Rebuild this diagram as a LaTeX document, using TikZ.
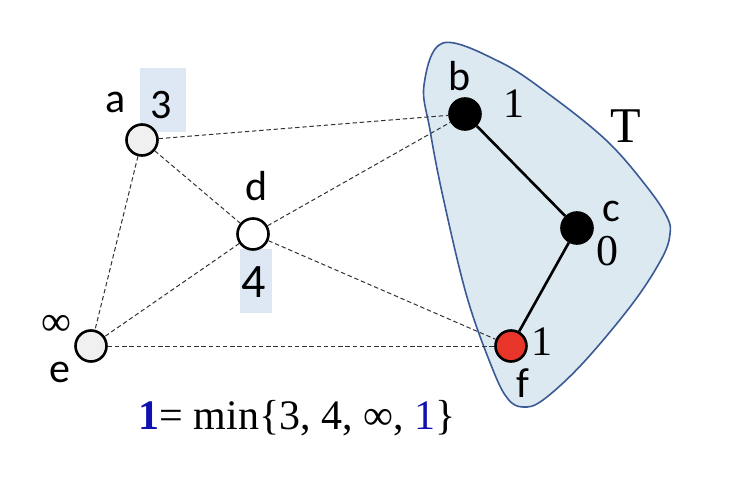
\documentclass[tikz,border=0pt]{standalone}
\usepackage{fontspec}
\setmainfont{Liberation Serif}
\newfontfamily\labelfont{Carlito}
\usepackage{tikz}
\usetikzlibrary{positioning}
\definecolor{treefill}{HTML}{DDE9F1}
\definecolor{treeline}{HTML}{3B5A95}
\definecolor{keybox}{HTML}{DDE8F4}
\definecolor{inactive}{HTML}{F0F0F0}
\definecolor{picked}{HTML}{E8352A}
\definecolor{keyblue}{HTML}{1010B0}
\newcommand{\lblsize}[1]{\fontsize{#1}{#1}\selectfont}

\begin{document}
\begin{tikzpicture}[x=0.5pt, y=-0.5pt,
  vtx/.style={circle, draw=black, line width=1.3pt, minimum size=15.5pt, inner sep=0pt},
  outv/.style={vtx, fill=inactive},
  fringe/.style={vtx, fill=white},
  inv/.style={vtx, fill=black},
  pick/.style={vtx, fill=picked},
  cand/.style={dash pattern=on 2.2pt off 1.4pt, line width=0.5pt, black!80},
  tree/.style={line width=1.3pt, black},
  vname/.style={font=\labelfont\lblsize{21}, inner sep=0pt},
  vkey/.style={font=\labelfont\lblsize{#1}, inner sep=0pt},
  dist/.style={font=\lblsize{#1}, inner sep=0pt}
]
\useasboundingbox (0,0) rectangle (730,482);

% tree region T
\draw[treeline, fill=treefill, line width=0.8pt] plot[smooth cycle, tension=0.6] coordinates {
  (443,43) (500,62) (550,95) (607,141) (647,187) (667,217) (670,234)
  (662,258) (633,303) (583,363) (543,400) (523,407) (508,399)
  (493,370) (467,297) (443,197) (430,130) (424,85)};
\node[dist=25] (Tlbl) at (626,126) {T};

% key boxes
\fill[keybox] (140,68) rectangle (186,132);
\fill[keybox] (240,249) rectangle (272,313);

% vertices
\node[outv] (a) at (142,140) {};
\node[fringe] (d) at (253,234) {};
\node[outv] (e) at (91,346) {};
\node[inv] (b) at (465,114) {};
\node[inv] (c) at (577,228) {};
\node[pick] (f) at (511,346) {};

% candidate edges
\draw[cand] (a) -- (b);
\draw[cand] (a) -- (d);
\draw[cand] (a) -- (e);
\draw[cand] (d) -- (b);
\draw[cand] (d) -- (e);
\draw[cand] (d) -- (f);
\draw[cand] (e) -- (f);

% tree edges
\draw[tree] (b) -- (c);
\draw[tree] (c) -- (f);

% names and keys
\node[vname] (alb) at (116,102) {a};
\node[vkey=21] (akey) at (161,105) {3};
\node[vname] (dlb) at (257,186) {d};
\node[vkey=24] (dkey) at (254,282) {4};
\node[vname] (elb) at (60,372) {e};
\node[dist=21] (ekey) at (56,325) {∞};
\node[vname] (blb) at (460,76) {b};
\node[dist=21] (bkey) at (514,104) {1};
\node[vname] (clb) at (611,211) {c};
\node[dist=22] (ckey) at (607,251) {0};
\node[vname] (flb) at (523,383) {f};
\node[dist=21] (fkey) at (542,342) {1};

% update rule
\node[dist=21] (rule) at (297,418) {\textcolor{keyblue}{\textbf{1}}= min\{3, 4, ∞, \textcolor{keyblue}{1}\}};
\end{tikzpicture}
\end{document}
